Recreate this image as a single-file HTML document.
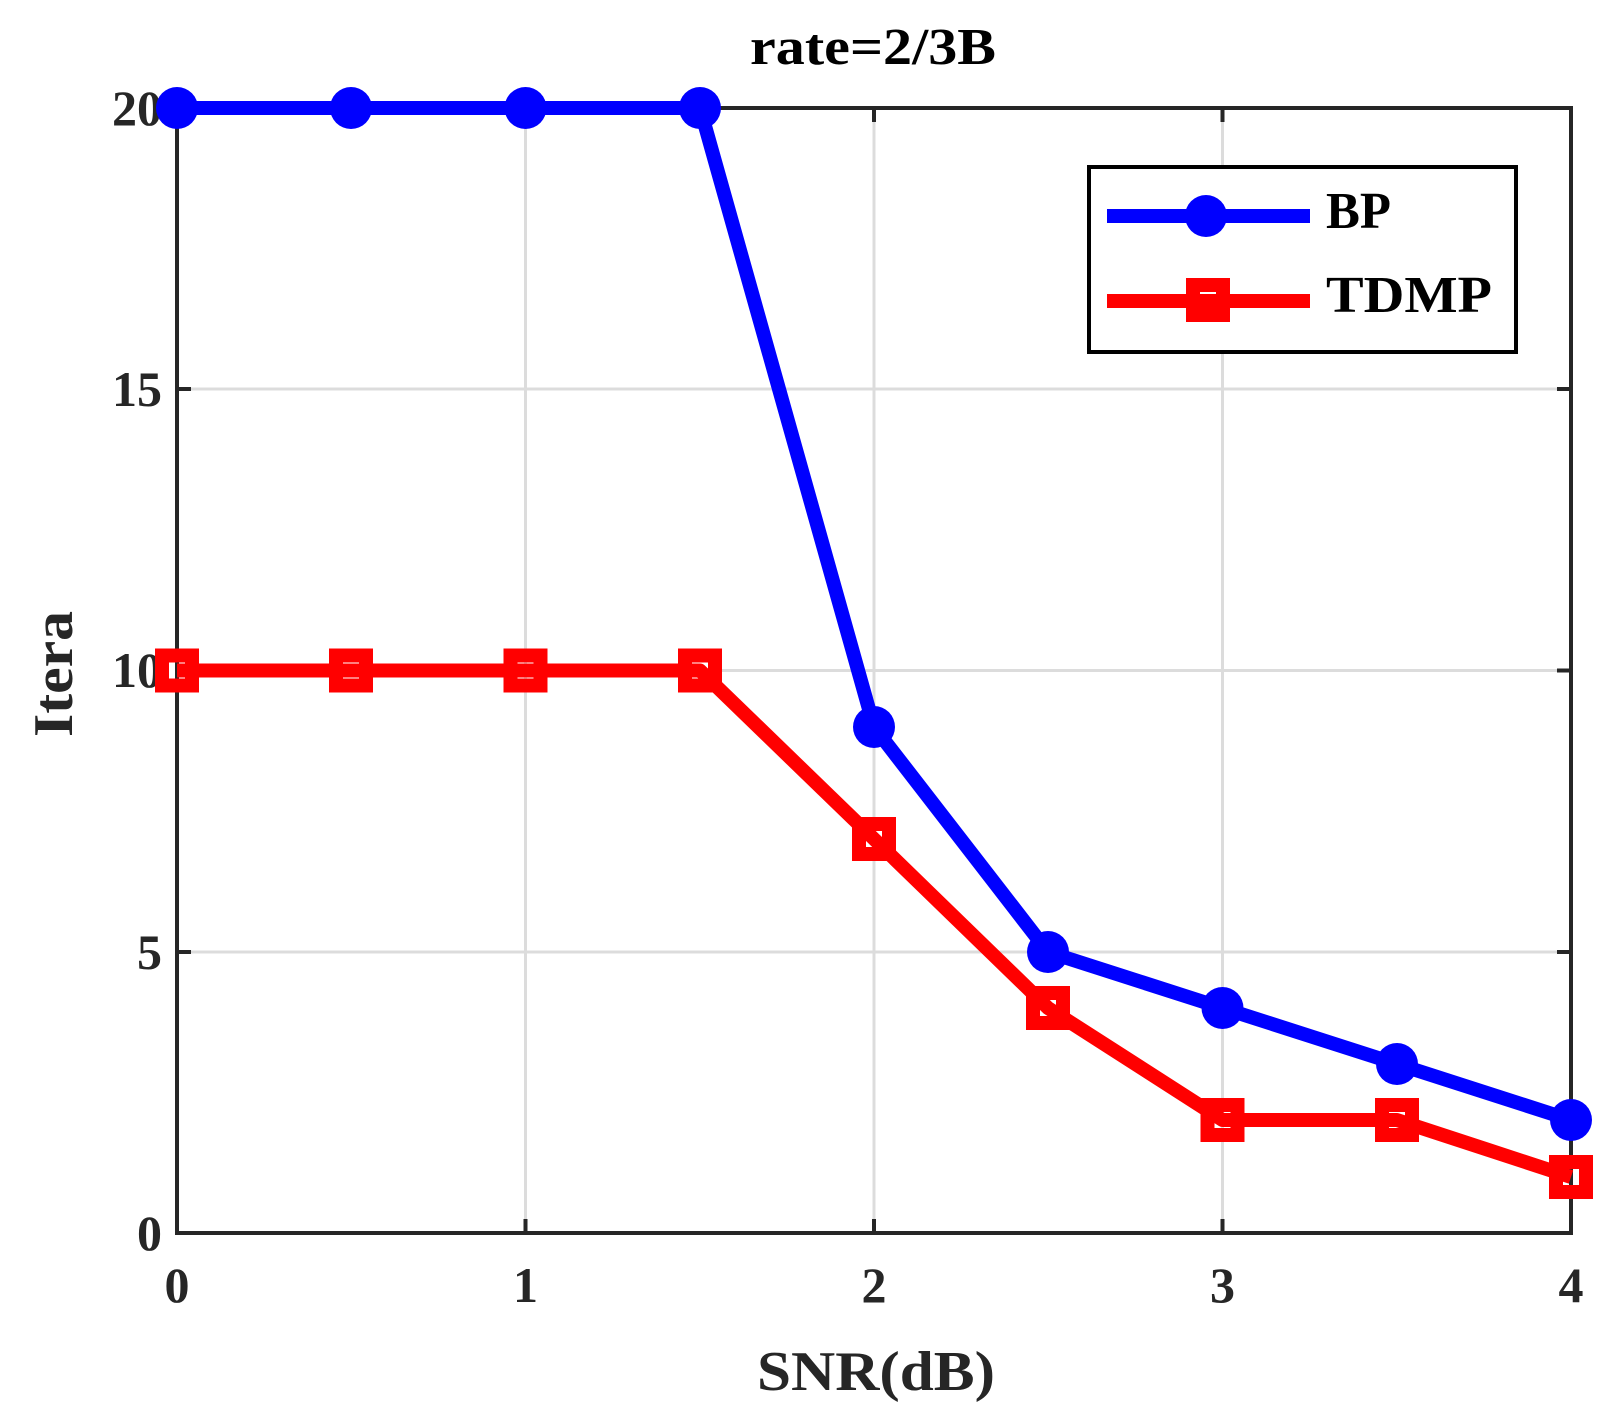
<!DOCTYPE html>
<html><head><style>body{margin:0;background:#fff}svg{display:block}</style></head>
<body>
<svg width="1615" height="1413" xmlns="http://www.w3.org/2000/svg" font-family="Liberation Serif, serif" font-weight="bold">
<rect width="1615" height="1413" fill="#fff"/>
<g stroke="#dcdcdc" stroke-width="3">
<line x1="525.5" y1="108" x2="525.5" y2="1233"/><line x1="874" y1="108" x2="874" y2="1233"/><line x1="1222.5" y1="108" x2="1222.5" y2="1233"/>
<line x1="177" y1="952" x2="1571" y2="952"/><line x1="177" y1="670.5" x2="1571" y2="670.5"/><line x1="177" y1="389" x2="1571" y2="389"/>
</g>
<g stroke="#262626" stroke-width="4">
<rect x="177" y="108" width="1394" height="1125" fill="none"/>
<line x1="525.5" y1="1233" x2="525.5" y2="1219"/><line x1="874" y1="1233" x2="874" y2="1219"/><line x1="1222.5" y1="1233" x2="1222.5" y2="1219"/>
<line x1="525.5" y1="108" x2="525.5" y2="122"/><line x1="874" y1="108" x2="874" y2="122"/><line x1="1222.5" y1="108" x2="1222.5" y2="122"/>
<line x1="177" y1="952" x2="191" y2="952"/><line x1="177" y1="670.5" x2="191" y2="670.5"/><line x1="177" y1="389" x2="191" y2="389"/>
<line x1="1571" y1="952" x2="1557" y2="952"/><line x1="1571" y1="670.5" x2="1557" y2="670.5"/><line x1="1571" y1="389" x2="1557" y2="389"/>
</g>
<g fill="#262626" font-size="50" text-anchor="middle">
<text x="177" y="1302">0</text><text x="525.5" y="1302">1</text><text x="874" y="1302">2</text><text x="1222.5" y="1302">3</text><text x="1571" y="1302">4</text>
<g text-anchor="end"><text x="162" y="1250">0</text><text x="162" y="969">5</text><text x="162" y="687">10</text><text x="162" y="406">15</text><text x="162" y="125">20</text></g>
<text x="876" y="1390" font-size="56" textLength="238" lengthAdjust="spacingAndGlyphs">SNR(dB)</text>
<text x="873" y="64" font-size="52" fill="#000" textLength="246" lengthAdjust="spacingAndGlyphs">rate=2/3B</text>
<text transform="translate(72,674) rotate(-90)" font-size="56" textLength="126" lengthAdjust="spacingAndGlyphs">Itera</text>
</g>
<polyline fill="none" stroke="#0000ff" stroke-width="14" stroke-linejoin="round" points="177,108 351,108 525.5,108 700,108 874,727 1048,952 1222.5,1008 1397,1064 1571,1120"/>
<g fill="#0000ff">
<circle cx="177" cy="108" r="21"/><circle cx="351" cy="108" r="21"/><circle cx="525.5" cy="108" r="21"/><circle cx="700" cy="108" r="21"/><circle cx="874" cy="727" r="21"/><circle cx="1048" cy="952" r="21"/><circle cx="1222.5" cy="1008" r="21"/><circle cx="1397" cy="1064" r="21"/><circle cx="1571" cy="1120" r="21"/>
</g>
<polyline fill="none" stroke="#ff0000" stroke-width="14" stroke-linejoin="round" points="177,670.5 351,670.5 525.5,670.5 700,670.5 874,839 1048,1008 1222.5,1120 1397,1120 1571,1177"/>
<g fill="none" stroke="#ff0000" stroke-width="14">
<rect x="162" y="655.5" width="30" height="30"/><rect x="336" y="655.5" width="30" height="30"/><rect x="510.5" y="655.5" width="30" height="30"/><rect x="685" y="655.5" width="30" height="30"/><rect x="859" y="824" width="30" height="30"/><rect x="1033" y="993" width="30" height="30"/><rect x="1207.5" y="1105" width="30" height="30"/><rect x="1382" y="1105" width="30" height="30"/><rect x="1556" y="1162" width="30" height="30"/>
</g>
<rect x="1089" y="167" width="427" height="185" fill="#fff" stroke="#000" stroke-width="4"/>
<line x1="1107" y1="216" x2="1310" y2="216" stroke="#0000ff" stroke-width="14"/>
<circle cx="1206" cy="216" r="21" fill="#0000ff"/>
<line x1="1107" y1="301" x2="1310" y2="301" stroke="#ff0000" stroke-width="14"/>
<rect x="1193" y="285" width="30" height="30" fill="none" stroke="#ff0000" stroke-width="14"/>
<g font-size="52" fill="#000"><text x="1326" y="228" textLength="65" lengthAdjust="spacingAndGlyphs">BP</text><text x="1326" y="312" textLength="166" lengthAdjust="spacingAndGlyphs">TDMP</text></g>
</svg>
</body></html>
